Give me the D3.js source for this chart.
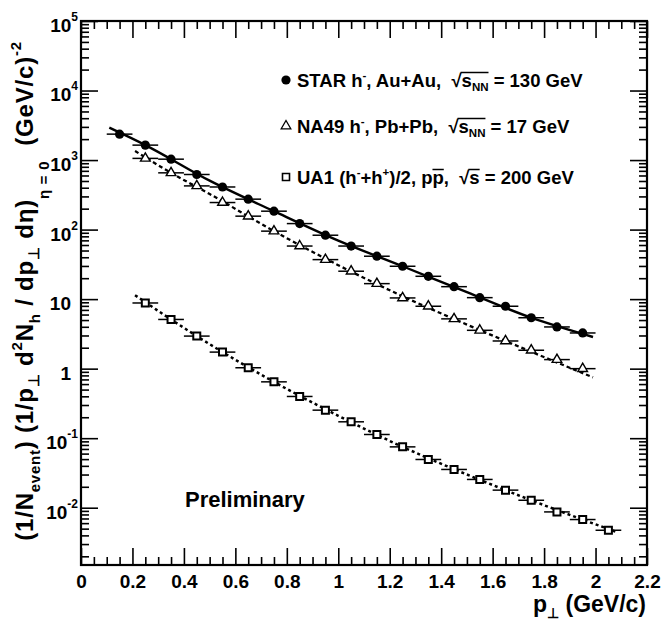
<!DOCTYPE html>
<html>
<head>
<meta charset="utf-8">
<script src="https://cdn.jsdelivr.net/npm/d3@7"></script>
<style>
  body { margin: 0; background: #fff; }
  svg { font-family: 'Liberation Sans', Arial, Helvetica, sans-serif; font-weight: bold; }
  text { white-space: pre; }
</style>
</head>
<body>
<svg width="662" height="623"></svg>
<script>
// data
const starX = [0.15, 0.25, 0.35, 0.45, 0.55, 0.65, 0.75, 0.85, 0.95, 1.05, 1.15, 1.25, 1.35, 1.45, 1.55, 1.65, 1.75, 1.85, 1.95];
const starY = [2360, 1640, 1030, 620, 410, 274, 184, 122, 83, 58, 41.4, 29.7, 21.3, 15.1, 10.5, 7.9, 5.4, 3.98, 3.26];
const na49X = [0.25, 0.35, 0.45, 0.55, 0.65, 0.75, 0.85, 0.95, 1.05, 1.15, 1.25, 1.35, 1.45, 1.55, 1.65, 1.75, 1.85, 1.95];
const na49Y = [1057, 655, 425, 245, 156, 95, 58, 37, 25.2, 16.7, 10.4, 7.9, 5.2, 3.56, 2.5, 1.84, 1.35, 1.0];
const ua1X = [0.25, 0.35, 0.45, 0.55, 0.65, 0.75, 0.85, 0.95, 1.05, 1.15, 1.25, 1.35, 1.45, 1.55, 1.65, 1.75, 1.85, 1.95, 2.05];
const ua1Y = [8.8, 5.1, 2.94, 1.73, 1.03, 0.646, 0.398, 0.253, 0.172, 0.113, 0.075, 0.0494, 0.0355, 0.0255, 0.0179, 0.0128, 0.0087, 0.00676, 0.00474];

// fit curves
const starFitX = [0.11, 0.25, 0.5, 0.75, 1.0, 1.25, 1.5, 1.75, 1.99];
const starFitY = [2920, 1640, 505, 184, 69.5, 29.7, 12.6, 5.4, 2.85];
const na49FitX = [0.21, 0.35, 0.5, 0.75, 1.0, 1.25, 1.5, 1.75, 1.99];
const na49FitY = [1350, 655, 325, 95, 30.8, 11, 4.3, 1.75, 0.75];
const ua1FitX = [0.21, 0.35, 0.5, 0.75, 1.0, 1.25, 1.5, 1.75, 2.08];
const ua1FitY = [11.4, 5.1, 2.25, 0.646, 0.21, 0.075, 0.030, 0.0128, 0.0045];

const xMajor = [0, 0.2, 0.4, 0.6, 0.8, 1.0, 1.2, 1.4, 1.6, 1.8, 2.0, 2.2];
const yDecades = [1e-2, 1e-1, 1, 10, 1e2, 1e3, 1e4, 1e5];
const halfBin = 0.05;

const svg = d3.select('svg');
const mLeft = 81, mRight = 647, mTop = 21, mBottom = 565;

const x = d3.scaleLinear().domain([0, 2.2]).range([mLeft, mRight]);
const y = d3.scaleLog().domain([1.5e-3, 1e5]).range([mBottom, mTop]);

const xMinor = d3.range(0, 2.2001, 0.05).filter(v => Math.abs(v / 0.2 - Math.round(v / 0.2)) > 1e-6);
const yMinor = [];
for (let e = -3; e <= 4; e++) {
  for (let k = 2; k <= 9; k++) {
    const v = k * Math.pow(10, e);
    if (v >= 1.5e-3 && v <= 1e5) yMinor.push(v);
  }
}

// rich text helper: parts = [text, kind, shiftFactor, overlineGroup]
function rich(textSel, parts, size) {
  let shift = 0;
  parts.forEach(p => {
    const [t, kind, f, ov] = p;
    let target = 0, fs = size;
    if (kind === 'sup') { target = -(f || 0.42) * size; fs = 0.62 * size; }
    if (kind === 'sub') { target = (f || 0.28) * size; fs = 0.62 * size; }
    const ts = textSel.append('tspan')
      .attr('dy', (target - shift).toFixed(1))
      .style('font-size', fs.toFixed(1) + 'px')
      .text(t);
    if (ov) ts.attr('data-ov', ov);
    shift = target;
  });
}

function styleAxis(g) {
  g.select('.domain').remove();
  g.selectAll('.tick line').attr('stroke', '#000').attr('stroke-width', 1.6);
  g.attr('font-family', null).attr('font-size', null);
}

// axes
svg.append('g')
  .attr('transform', `translate(0, ${mBottom})`)
  .call(d3.axisBottom(x).tickValues(xMajor).tickSize(-17).tickSizeOuter(0).tickPadding(10)
    .tickFormat(d => String(+d.toFixed(1))))
  .call(styleAxis)
  .selectAll('.tick text')
  .attr('fill', '#000')
  .style('font-size', '19px');

svg.append('g')
  .attr('transform', `translate(0, ${mBottom})`)
  .call(d3.axisBottom(x).tickValues(xMinor).tickSize(-8).tickSizeOuter(0).tickFormat(''))
  .call(styleAxis);

svg.append('g')
  .attr('transform', `translate(0, ${mTop})`)
  .call(d3.axisTop(x).tickValues(xMajor).tickSize(-17).tickSizeOuter(0).tickFormat(''))
  .call(styleAxis);

svg.append('g')
  .attr('transform', `translate(0, ${mTop})`)
  .call(d3.axisTop(x).tickValues(xMinor).tickSize(-8).tickSizeOuter(0).tickFormat(''))
  .call(styleAxis);

const yAxis = svg.append('g')
  .attr('transform', `translate(${mLeft}, 0)`)
  .call(d3.axisLeft(y).tickValues(yDecades).tickSize(-17).tickSizeOuter(0).tickFormat(''))
  .call(styleAxis);

yAxis.selectAll('.tick text').each(function (d) {
  const e = Math.round(Math.log10(d));
  const t = d3.select(this).attr('fill', '#000').attr('dy', '0.55em').style('font-size', '19px');
  if (e === 0) t.attr('x', -10).text('1');
  else if (e === 1) t.attr('x', -10).text('10');
  else {
    t.attr('x', -3).text('10');
    t.append('tspan').attr('dy', -11).style('font-size', '12px').text(e);
  }
});

svg.append('g')
  .attr('transform', `translate(${mLeft}, 0)`)
  .call(d3.axisLeft(y).tickValues(yMinor).tickSize(-8).tickSizeOuter(0).tickFormat(''))
  .call(styleAxis);

svg.append('g')
  .attr('transform', `translate(${mRight}, 0)`)
  .call(d3.axisRight(y).tickValues(yDecades).tickSize(-17).tickSizeOuter(0).tickFormat(''))
  .call(styleAxis);

svg.append('g')
  .attr('transform', `translate(${mRight}, 0)`)
  .call(d3.axisRight(y).tickValues(yMinor).tickSize(-8).tickSizeOuter(0).tickFormat(''))
  .call(styleAxis);

svg.append('rect')
  .attr('x', mLeft).attr('y', mTop)
  .attr('width', mRight - mLeft).attr('height', mBottom - mTop)
  .attr('fill', 'none').attr('stroke', '#000').attr('stroke-width', 2.2);

// fit curves
const line = d3.line().x(d => x(d[0])).y(d => y(d[1])).curve(d3.curveMonotoneX);

svg.append('path')
  .datum(d3.zip(starFitX, starFitY))
  .attr('d', line)
  .attr('fill', 'none').attr('stroke', '#000').attr('stroke-width', 2.4);

svg.append('path')
  .datum(d3.zip(na49FitX, na49FitY))
  .attr('d', line)
  .attr('fill', 'none').attr('stroke', '#000').attr('stroke-width', 2.3)
  .attr('stroke-dasharray', '4,3');

svg.append('path')
  .datum(d3.zip(ua1FitX, ua1FitY))
  .attr('d', line)
  .attr('fill', 'none').attr('stroke', '#000').attr('stroke-width', 2.5)
  .attr('stroke-dasharray', '3,3');

// points with bin-width bars
const triangle = d3.symbol().type(d3.symbolTriangle).size(40);
const square = d3.symbol().type(d3.symbolSquare).size(49);

function drawSeries(xs, ys, marker) {
  const g = svg.append('g');
  const pts = d3.zip(xs, ys);
  g.selectAll('line')
    .data(pts)
    .enter()
    .append('line')
    .attr('x1', d => x(d[0] - halfBin))
    .attr('x2', d => x(d[0] + halfBin))
    .attr('y1', d => y(d[1]))
    .attr('y2', d => y(d[1]))
    .attr('stroke', '#000')
    .attr('stroke-width', 1.5);
  const m = g.selectAll('.pt')
    .data(pts)
    .enter();
  if (marker === 'circle') {
    m.append('circle')
      .attr('cx', d => x(d[0])).attr('cy', d => y(d[1]))
      .attr('r', 4.6).attr('fill', '#000');
  } else {
    m.append('path')
      .attr('d', marker === 'triangle' ? triangle : square)
      .attr('transform', d => `translate(${x(d[0])}, ${y(d[1])})`)
      .attr('fill', '#fff').attr('stroke', '#000')
      .attr('stroke-width', marker === 'triangle' ? 1.4 : 2);
  }
}

drawSeries(starX, starY, 'circle');
drawSeries(na49X, na49Y, 'triangle');
drawSeries(ua1X, ua1Y, 'square');

// legend
const legendSize = 18.5;
const legendRows = [
  { base: 87, marker: 'circle', parts: [['STAR h'], ['-', 'sup'], [', Au+Au,  √'], ['s', '', 0, 'a'], ['NN', 'sub', 0.22, 'a'], [' = 130 GeV']] },
  { base: 133, marker: 'triangle', parts: [['NA49 h'], ['-', 'sup'], [', Pb+Pb,  √'], ['s', '', 0, 'a'], ['NN', 'sub', 0.22, 'a'], [' = 17 GeV']] },
  { base: 184, marker: 'square', parts: [['UA1 (h'], ['-', 'sup'], ['+h'], ['+', 'sup'], [')/2, p'], ['p', '', 0, 'b'], [',  √'], ['s', '', 0, 'c'], [' = 200 GeV']] }
];

legendRows.forEach(r => {
  const my = r.base - 7;
  if (r.marker === 'circle') {
    svg.append('circle').attr('cx', 286).attr('cy', my).attr('r', 4.6).attr('fill', '#000');
  } else {
    svg.append('path')
      .attr('d', r.marker === 'triangle' ? triangle : square)
      .attr('transform', `translate(286, ${my})`)
      .attr('fill', '#fff').attr('stroke', '#000')
      .attr('stroke-width', r.marker === 'triangle' ? 1.3 : 1.6);
  }
  const t = svg.append('text')
    .attr('class', 'legend')
    .attr('x', 297).attr('y', r.base)
    .attr('data-base', r.base)
    .style('font-size', legendSize + 'px');
  rich(t, r.parts, legendSize);
});

// overlines for sqrt and anti-proton
svg.selectAll('text.legend').each(function () {
  const base = +this.getAttribute('data-base');
  const boxes = {};
  d3.select(this).selectAll('tspan[data-ov]').each(function () {
    const k = this.getAttribute('data-ov');
    const b = this.getBBox();
    if (!boxes[k]) boxes[k] = { x0: b.x, x1: b.x + b.width };
    else { boxes[k].x0 = Math.min(boxes[k].x0, b.x); boxes[k].x1 = Math.max(boxes[k].x1, b.x + b.width); }
  });
  Object.keys(boxes).forEach(k => {
    svg.append('line')
      .attr('x1', boxes[k].x0 - (k === 'b' ? 0 : 1)).attr('x2', boxes[k].x1)
      .attr('y1', base - 14.5).attr('y2', base - 14.5)
      .attr('stroke', '#000').attr('stroke-width', 1.5);
  });
});

// titles
const yTitle = svg.append('text')
  .attr('transform', 'translate(33, 291) rotate(-90)')
  .attr('text-anchor', 'middle')
  .style('font-size', '24px')
  .style('letter-spacing', '0.8px');
rich(yTitle, [
  ['(1/N'], ['event', 'sub', 0.28], [') (1/p'], ['⊥', 'sub', 0.25], [' d'], ['2', 'sup', 0.45], ['N'], ['h', 'sub', 0.3],
  [' / dp'], ['⊥', 'sub', 0.25], [' dη)'], ['η = 0', 'sub', 0.65], ['  (GeV/c)'], ['-2', 'sup', 0.5]
], 24);

const xTitle = svg.append('text')
  .attr('x', 646).attr('y', 612)
  .attr('text-anchor', 'end')
  .style('font-size', '23px');
rich(xTitle, [['p'], ['⊥', 'sub', 0.25], [' (GeV/c)']], 23);

svg.append('text')
  .attr('x', 185).attr('y', 507)
  .style('font-size', '22px')
  .text('Preliminary');
</script>
</body>
</html>
